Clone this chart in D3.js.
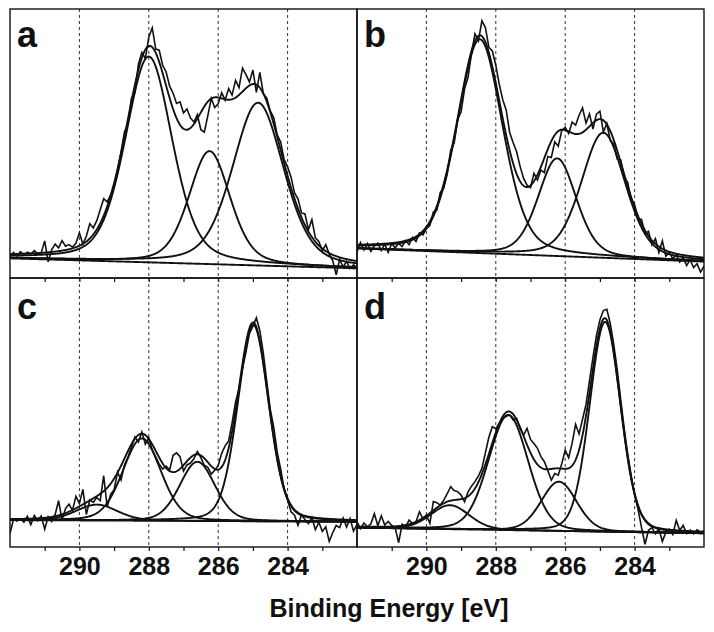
<!DOCTYPE html>
<html>
<head>
<meta charset="utf-8">
<script src="https://cdn.jsdelivr.net/npm/d3@7"></script>
<style>
  body { margin: 0; background: #fff; }
  text { font-family: "Liberation Sans", Arial, sans-serif; font-weight: bold; }
</style>
</head>
<body>
<div id="chart"></div>
<script>
// C1s spectra, 292 -> 282 eV, 0.1 eV steps (intensity in arbitrary units, 0-100)
const energyStart = 292;
const energyStep = 0.1;

const rawA = [
  8.0, 9.5, 8.2, 9.8, 8.6, 9.6, 8.9, 10.2, 9.0, 9.4,
  13.8, 6.0, 10.5, 12.6, 11.2, 13.9, 11.8, 12.4, 11.5, 12.9,
  16.8, 12.6, 15.5, 20.2, 18.6, 21.3, 25.4, 29.5, 28.3, 30.8,
  34.5, 40.1, 46.9, 54.4, 57.2, 66.8, 68.9, 79.5, 83.8, 81.6,
  89.5, 93.0, 85.1, 84.7, 79.0, 76.6, 71.3, 68.7, 64.9, 65.5,
  61.4, 62.8, 59.5, 58.0, 60.7, 55.1, 54.2, 60.3, 66.8, 63.4,
  64.8, 68.9, 66.1, 70.4, 68.0, 73.5, 70.8, 78.0, 75.6, 72.9,
  77.3, 69.0, 76.4, 68.5, 66.9, 62.1, 59.7, 53.2, 50.6, 44.0,
  41.3, 37.5, 31.6, 29.4, 24.2, 23.8, 18.0, 21.7, 14.9, 13.6,
  10.2, 12.4, 8.9, 6.5, 1.2, 6.9, 4.1, 6.2, 3.5, 4.9,
  3.8
];
const rawB = [
  9.8, 13.2, 10.4, 12.8, 9.9, 11.9, 13.0, 10.2, 12.6, 9.5,
  12.8, 11.2, 12.9, 11.7, 13.9, 12.4, 15.1, 13.6, 16.8, 16.0,
  18.4, 19.5, 24.5, 25.2, 31.8, 33.4, 38.6, 47.5, 50.2, 58.9,
  61.8, 70.3, 74.6, 83.5, 90.8, 88.2, 95.6, 93.1, 85.8, 84.4,
  79.1, 72.0, 66.3, 62.4, 54.1, 50.3, 46.9, 41.5, 37.0, 34.5,
  33.6, 38.9, 36.4, 40.1, 39.2, 45.2, 44.8, 50.6, 49.0, 54.8,
  56.0, 53.7, 57.9, 56.8, 60.5, 63.2, 57.6, 61.0, 55.4, 60.9,
  62.0, 54.3, 57.4, 51.0, 49.8, 44.2, 43.9, 37.5, 35.6, 29.1,
  27.3, 22.0, 21.8, 16.5, 17.4, 12.3, 14.6, 9.5, 13.8, 8.1,
  9.4, 7.2, 8.6, 5.9, 7.5, 4.6, 6.8, 3.9, 5.3, 2.2,
  4.4
];
const rawC = [
  5.0, 10.3, 9.6, 10.5, 9.2, 11.4, 8.3, 11.7, 9.8, 11.5,
  6.6, 11.2, 9.5, 12.0, 17.2, 10.1, 14.3, 15.9, 13.6, 18.8,
  16.2, 21.4, 12.1, 17.5, 16.6, 18.4, 17.2, 26.5, 14.9, 19.6,
  21.3, 27.8, 24.9, 30.6, 33.4, 37.2, 40.9, 39.0, 42.8, 38.2,
  40.6, 36.1, 33.5, 30.8, 29.0, 30.1, 28.6, 34.1, 35.0, 33.6,
  28.2, 30.5, 31.2, 32.8, 35.5, 33.2, 30.4, 29.6, 27.1, 28.5,
  30.2, 34.8, 37.6, 39.4, 46.1, 53.8, 58.9, 66.4, 72.5, 79.3,
  82.1, 85.2, 80.4, 72.1, 61.5, 51.2, 44.6, 35.3, 29.0, 21.5,
  17.4, 13.1, 11.8, 8.1, 11.9, 10.2, 8.7, 11.0, 6.4, 9.2,
  5.8, 7.5, 2.1, 5.3, 8.0, 7.2, 10.8, 7.4, 10.6, 5.9,
  8.3
];
const rawD = [
  9.4, 6.8, 8.9, 7.5, 8.6, 12.4, 7.9, 11.6, 8.2, 9.5,
  8.0, 7.2, 1.6, 8.5, 7.4, 10.0, 8.7, 9.4, 13.1, 10.5,
  11.9, 8.8, 16.9, 16.5, 15.6, 17.4, 19.8, 22.4, 21.0, 20.6,
  19.3, 16.8, 20.5, 22.6, 24.3, 26.4, 29.2, 35.0, 40.8, 44.7,
  44.0, 45.9, 47.8, 48.6, 49.1, 47.2, 47.8, 44.0, 41.6, 44.1,
  40.0, 38.5, 36.7, 33.6, 31.7, 28.4, 24.9, 27.3, 26.7, 30.9,
  36.0, 33.2, 38.6, 45.6, 42.0, 47.5, 53.0, 61.8, 70.5, 78.6,
  84.4, 87.9, 88.4, 83.0, 75.2, 65.9, 54.8, 44.1, 34.6, 26.7,
  19.5, 14.0, 7.2, 1.0, 6.2, 7.2, 4.9, 6.8, 2.1, 5.4,
  6.6, 4.6, 9.9, 6.2, 8.0, 5.0, 6.3, 4.9, 6.4, 5.6,
  5.9
];

// linear background: intensity at 292 eV and at 282 eV
const baseA = [7.3, 3.6];
const baseB = [11.0, 6.1];
const baseC = [10.0, 9.4];
const baseD = [7.2, 5.1];

// fitted components: [centre eV, height, FWHM eV]
const peaksA = [[288.0, 76.5, 1.6], [286.25, 42, 1.4], [284.85, 60.5, 1.75]];
const peaksB = [[288.46, 79.5, 1.55], [286.23, 36.3, 1.3], [284.9, 46.5, 1.5]];
const peaksC = [[289.5, 5.9, 1.4], [288.2, 30.6, 1.3], [286.6, 22, 1.2], [284.99, 73, 1.05]];
const peaksD = [[289.32, 8.9, 1.3], [287.64, 42.8, 1.35], [286.18, 18.3, 1.2], [284.85, 78, 1.05]];

// Gaussian-Lorentzian mixing of each fit
const mixA = 0.35, mixB = 0.3, mixC = 0.2, mixD = 0.15;

const panelLabels = ["a", "b", "c", "d"];
const majorTicks = [290, 288, 286, 284];
const minorTicks = [291, 290, 289, 288, 287, 286, 285, 284, 283];
const xLabel = "Binding Energy [eV]";

const width = 714, height = 632;
const cols = [10, 357, 704];
const rows = [9, 278, 547];

const svg = d3.select("#chart").append("svg")
    .attr("width", width)
    .attr("height", height);

svg.append("rect").attr("width", width).attr("height", height).attr("fill", "#fff");

const panels = [
  { label: panelLabels[0], raw: rawA, base: baseA, peaks: peaksA, mix: mixA, c: 0, r: 0 },
  { label: panelLabels[1], raw: rawB, base: baseB, peaks: peaksB, mix: mixB, c: 1, r: 0 },
  { label: panelLabels[2], raw: rawC, base: baseC, peaks: peaksC, mix: mixC, c: 0, r: 1 },
  { label: panelLabels[3], raw: rawD, base: baseD, peaks: peaksD, mix: mixD, c: 1, r: 1 }
];

function pseudoVoigt(e, p, m) {
  const t = (e - p[0]) / p[2];
  return p[1] * ((1 - m) * Math.exp(-4 * Math.LN2 * t * t) + m / (1 + 4 * t * t));
}

const fine = d3.range(0, 501).map(i => 282 + i * 0.02);

panels.forEach((p, k) => {
  const x0 = cols[p.c], x1 = cols[p.c + 1];
  const y0 = rows[p.r], y1 = rows[p.r + 1];

  const x = d3.scaleLinear().domain([292, 282]).range([x0, x1]);
  const y = d3.scaleLinear().domain([0, 100]).range([y1, y0]);

  const g = svg.append("g");

  g.append("clipPath").attr("id", "clip" + k)
    .append("rect").attr("x", x0).attr("y", y0).attr("width", x1 - x0).attr("height", y1 - y0);

  // dashed guide lines
  g.selectAll(".grid")
    .data(majorTicks)
    .enter().append("line")
    .attr("x1", d => x(d)).attr("x2", d => x(d))
    .attr("y1", y0).attr("y2", y1)
    .attr("stroke", "#333")
    .attr("stroke-width", 1)
    .attr("stroke-dasharray", "3,3");

  const bg = e => p.base[0] + (p.base[1] - p.base[0]) * (292 - e) / 10;

  const line = d3.line().x(d => x(d[0])).y(d => y(d[1]));
  const plot = g.append("g").attr("clip-path", `url(#clip${k})`);

  // background
  plot.append("path")
    .datum(fine.map(e => [e, bg(e)]))
    .attr("d", line)
    .attr("fill", "none").attr("stroke", "#111").attr("stroke-width", 1.9);

  // components
  p.peaks.forEach(pk => {
    plot.append("path")
      .datum(fine.map(e => [e, bg(e) + pseudoVoigt(e, pk, p.mix)]))
      .attr("d", line)
      .attr("fill", "none").attr("stroke", "#111").attr("stroke-width", 1.9);
  });

  // envelope
  plot.append("path")
    .datum(fine.map(e => [e, bg(e) + d3.sum(p.peaks, pk => pseudoVoigt(e, pk, p.mix))]))
    .attr("d", line)
    .attr("fill", "none").attr("stroke", "#111").attr("stroke-width", 1.9);

  // measured data
  plot.append("path")
    .datum(p.raw.map((v, i) => [energyStart - i * energyStep, v]))
    .attr("d", line)
    .attr("fill", "none").attr("stroke", "#111").attr("stroke-width", 1.6)
    .attr("stroke-linejoin", "miter");

  // frame
  g.append("rect")
    .attr("x", x0).attr("y", y0)
    .attr("width", x1 - x0).attr("height", y1 - y0)
    .attr("fill", "none").attr("stroke", "#111").attr("stroke-width", 1.4);

  const axis = g.append("g")
    .attr("transform", `translate(0,${y1})`)
    .call(d3.axisBottom(x).tickValues(minorTicks).tickSize(4).tickSizeOuter(0)
      .tickFormat(d => (p.r === 1 && d % 2 === 0) ? d : ""));
  axis.select(".domain").remove();
  axis.selectAll(".tick line").attr("stroke", "#111").attr("stroke-width", 1.2);
  axis.selectAll(".tick text")
    .attr("y", 10)
    .attr("fill", "#111")
    .style("font-size", "25px")
    .style("font-family", "'Liberation Sans', Arial, sans-serif")
    .style("font-weight", "bold");

  g.append("text")
    .attr("x", x0 + 7)
    .attr("y", y0 + (p.r === 0 ? 38 : 41))
    .attr("fill", "#111")
    .style("font-size", "36px")
    .text(p.label);
});

svg.append("text")
  .attr("x", 389)
  .attr("y", 617)
  .attr("text-anchor", "middle")
  .attr("fill", "#111")
  .style("font-size", "25px")
  .text(xLabel);
</script>
</body>
</html>
